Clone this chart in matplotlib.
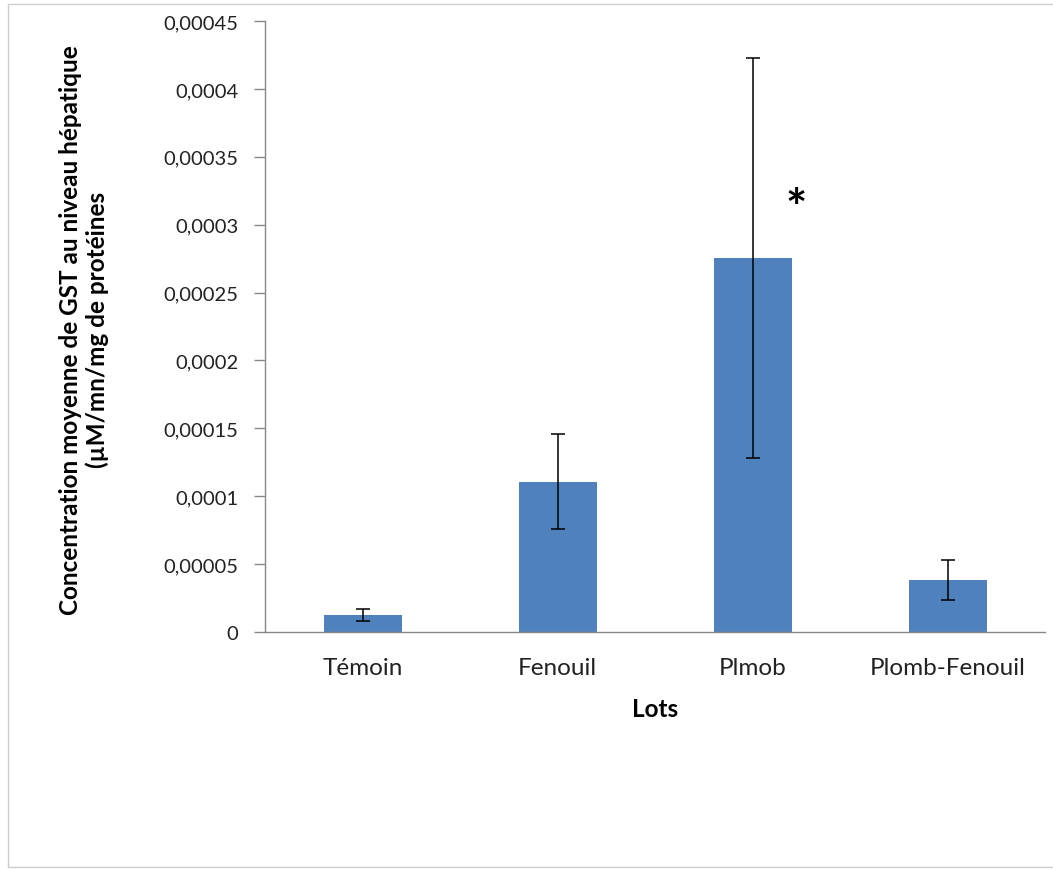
import numpy as np
import matplotlib
matplotlib.use("Agg")
import matplotlib.pyplot as plt
from matplotlib.patches import Rectangle

# donnees
lots = ["Témoin", "Fenouil", "Plmob", "Plomb-Fenouil"]
moyennes = [1.25e-5, 1.105e-4, 2.755e-4, 3.83e-5]
erreurs = [0.45e-5, 0.35e-4, 1.475e-4, 1.45e-5]
yticks = [0, 0.00005, 0.0001, 0.00015, 0.0002, 0.00025, 0.0003, 0.00035, 0.0004, 0.00045]
ytick_labels = ["0", "0,00005", "0,0001", "0,00015", "0,0002", "0,00025",
                "0,0003", "0,00035", "0,0004", "0,00045"]

plt.rcParams['font.family'] = ['Lato', 'DejaVu Sans']

fig = plt.figure(figsize=(10.53, 8.7), dpi=100)
ax = fig.add_axes([265/1053, 1 - 633/870, 780/1053, 611/870])

x = np.arange(len(lots))
ax.bar(x, moyennes, width=0.4, color='#4F81BD', zorder=2)
ax.errorbar(x, moyennes, yerr=erreurs, fmt='none', ecolor='black',
            elinewidth=1.1, capsize=5, capthick=1.1, zorder=3)

ax.text(2.225, 0.000311, "*", fontsize=36, fontweight='bold', ha='center', va='center')

ax.set_xlim(-0.5, 3.5)
ax.set_ylim(0, 0.00045)
ax.set_yticks(yticks)
ax.set_yticklabels(ytick_labels, fontsize=14.5, color='#222222')
ax.set_xticks(x)
ax.set_xticklabels(lots, fontsize=17.5, color='#222222')
ax.tick_params(axis='x', length=0, pad=18)
ax.tick_params(axis='y', length=8, width=1, color='#888888', pad=11)

for s in ['top', 'right']:
    ax.spines[s].set_visible(False)
for s in ['left', 'bottom']:
    ax.spines[s].set_color('#888888')
    ax.spines[s].set_linewidth(1)

ax.set_xlabel("Lots", fontsize=17.5, fontweight='bold', labelpad=14)
fig.text(84/1053, 1 - 330/870,
         "Concentration moyenne de GST au niveau hépatique\n(µM/mn/mg de protéines",
         rotation=90, ha='center', va='center', fontsize=17.5, fontweight='bold',
         linespacing=1.2)

# cadre du graphique
fig.patches.append(Rectangle((8/1053, 1 - 868/870), 1.0, 863/870, transform=fig.transFigure,
                             fill=False, edgecolor='#cccccc', linewidth=1))

fig.savefig("out.png", dpi=100)
